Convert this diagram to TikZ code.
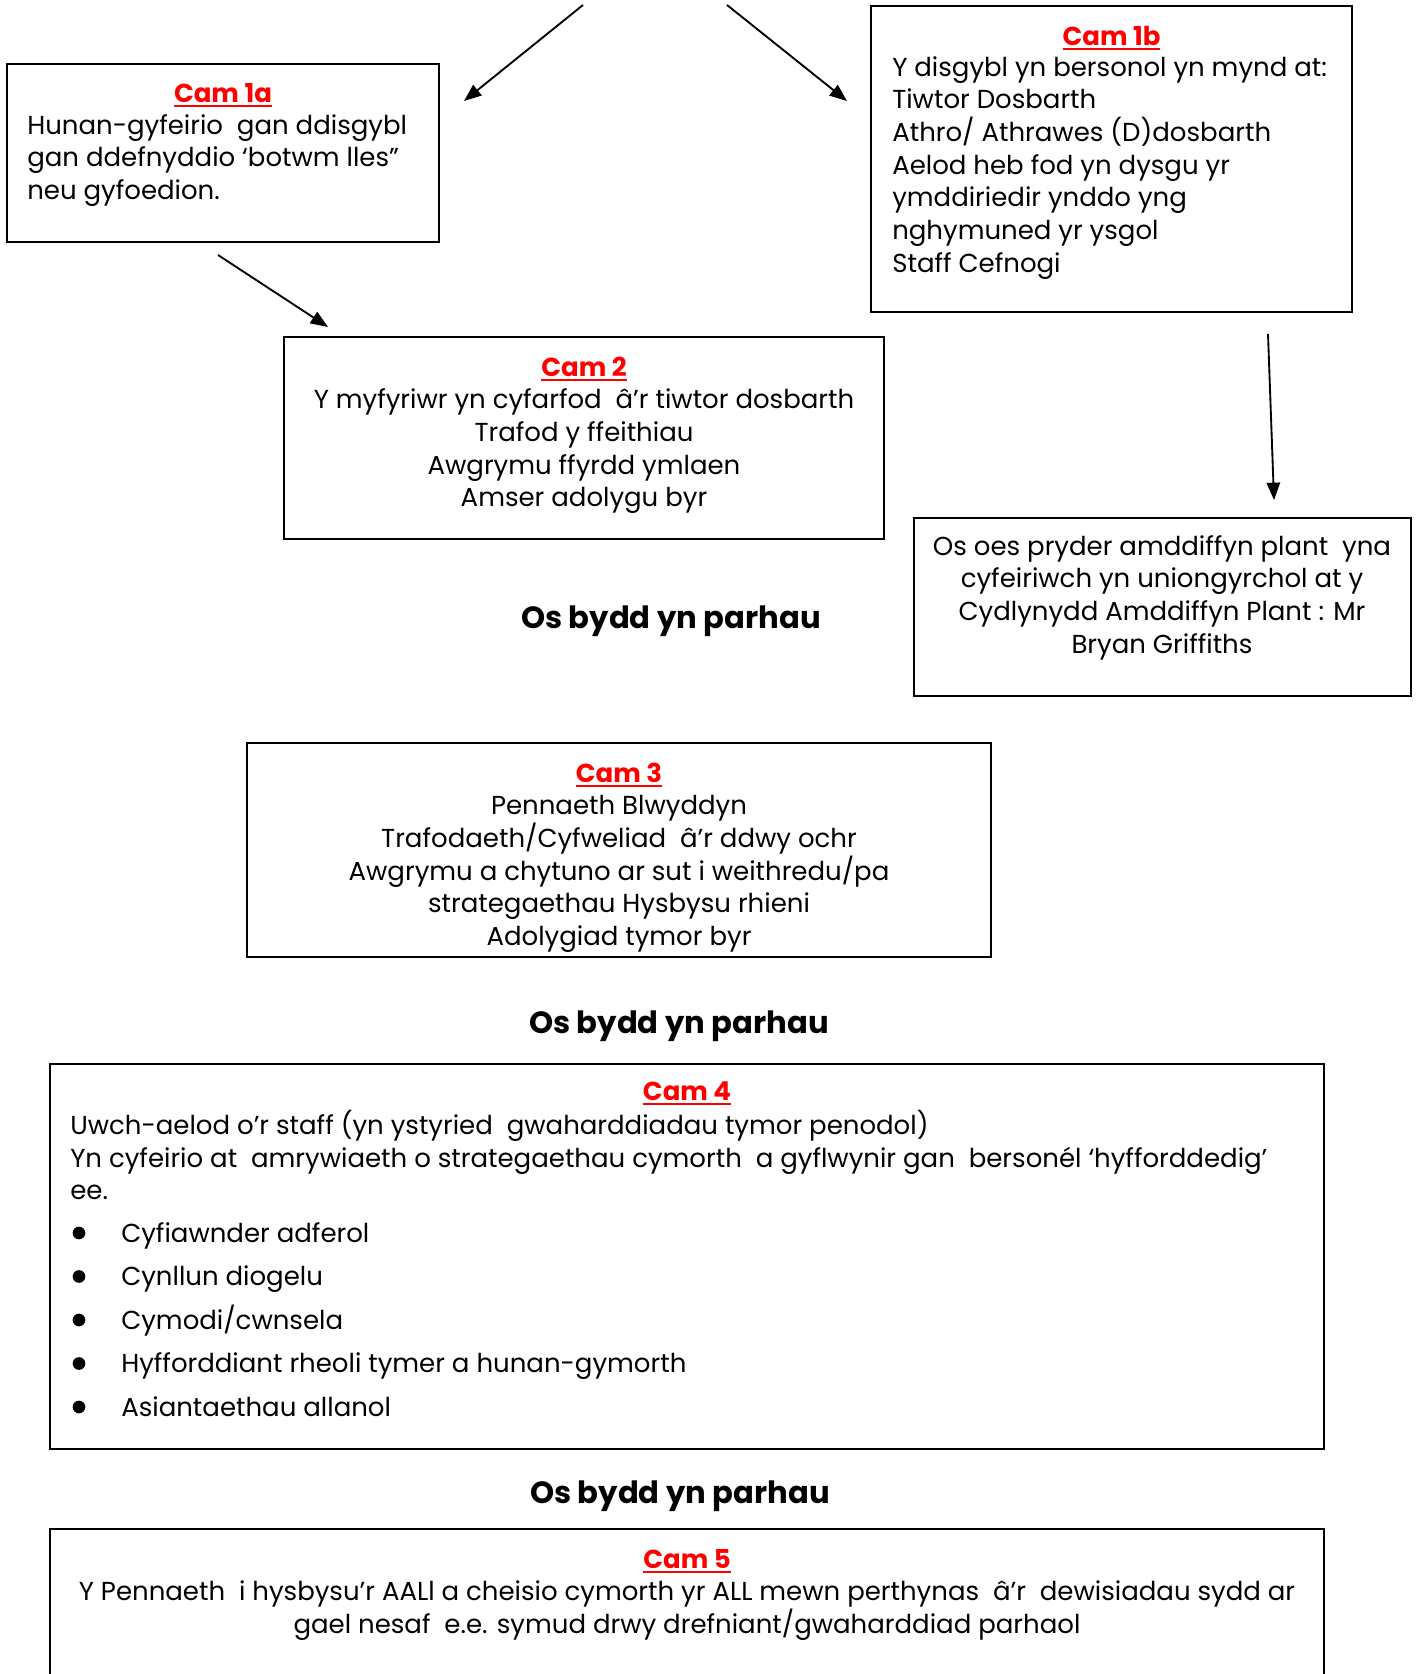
\documentclass[tikz,border=0pt]{standalone}
\usepackage{fontspec}
\setmainfont{Poppins}
\usetikzlibrary{arrows.meta}

\definecolor{camred}{RGB}{255,0,0}
\newcommand{\camtitle}[1]{\textcolor{camred}{\bfseries\setbox0\hbox{#1}\rlap{\rule[-3.5pt]{\wd0}{1.6pt}}\box0}}

\tikzset{
  box/.style={draw,line width=1.2pt,inner sep=0pt},
  body/.style={inner sep=0pt,font=\fontsize{19.5}{24.5}\selectfont},
  steptitle/.style={body,anchor=base},
  parhau/.style={inner sep=0pt,anchor=base,font=\fontsize{23}{28}\selectfont\bfseries},
  flow/.style={-{Triangle[length=13pt,width=10pt]},line width=1.4pt},
  dot/.style={circle,fill,inner sep=0pt,minimum size=9.5pt}
}

\begin{document}
\begin{tikzpicture}[x=0.75pt,y=-0.75pt]
  \useasboundingbox (0,0) rectangle (1418,1674);
  \clip (0,0) rectangle (1418,1674);

  % the boxes
  \node[box,minimum width=324pt,minimum height=133.5pt] (cam1a) at (223,153) {};
  \node[box,minimum width=360.75pt,minimum height=229.5pt] (cam1b) at (1111.5,159) {};
  \node[box,minimum width=450pt,minimum height=151.5pt] (cam2) at (584,438) {};
  \node[box,minimum width=372.75pt,minimum height=133.5pt] (plant) at (1162.5,607) {};
  \node[box,minimum width=558pt,minimum height=160.5pt] (cam3) at (619,850) {};
  \node[box,minimum width=955.5pt,minimum height=288.75pt] (cam4) at (687,1256.5) {};
  \node[box,minimum width=955.5pt,minimum height=180pt] (cam5) at (687,1649) {};

  % Cam 1a
  \node[steptitle] (t1a) at (223,102) {\camtitle{Cam 1a}};
  \node[body,anchor=north west,align=left] (b1a) at (27,111)
    {\strut Hunan-gyfeirio~ gan ddisgybl\\gan ddefnyddio ‘botwm lles”\\neu gyfoedion.};

  % Cam 1b
  \node[steptitle] (t1b) at (1111.5,45) {\camtitle{Cam 1b}};
  \node[body,anchor=north west,align=left] (b1b) at (892,53)
    {\strut Y disgybl yn bersonol yn mynd at:\\Tiwtor Dosbarth\\Athro/ Athrawes (D)dosbarth\\
     Aelod heb fod yn dysgu yr\\ymddiriedir ynddo yng\\nghymuned yr ysgol\\Staff Cefnogi};

  % Cam 2
  \node[body,anchor=north,align=center] (b2) at (584,353)
    {\strut\camtitle{Cam 2}\\Y myfyriwr yn cyfarfod~ â’r tiwtor dosbarth\\Trafod y ffeithiau\\
     Awgrymu ffyrdd ymlaen\\Amser adolygu byr};

  % amddiffyn plant
  \node[body,anchor=north,align=center] (bplant) at (1162,532)
    {\strut Os oes pryder amddiffyn plant~ yna\\cyfeiriwch yn uniongyrchol at y\\
     Cydlynydd Amddiffyn Plant : Mr\\Bryan Griffiths};

  % Cam 3
  \node[body,anchor=north,align=center] (b3) at (619,759)
    {\strut\camtitle{Cam 3}\\Pennaeth Blwyddyn\\Trafodaeth/Cyfweliad~ â’r ddwy ochr\\
     Awgrymu a chytuno ar sut i weithredu/pa\\strategaethau Hysbysu rhieni\\Adolygiad tymor byr};

  % Cam 4
  \node[steptitle] (t4) at (687,1100.6) {\camtitle{Cam 4}};
  \node[body,anchor=north west,align=left] (b4) at (70,1110)
    {\strut Uwch-aelod o’r staff (yn ystyried~ gwaharddiadau tymor penodol)\\
     Yn cyfeirio at~ amrywiaeth o strategaethau cymorth~ a gyflwynir gan~ bersonél ‘hyfforddedig’\\ee.};
  \foreach \item [count=\i] in {Cyfiawnder adferol,Cynllun diogelu,Cymodi/cwnsela,
      Hyfforddiant rheoli tymer a hunan-gymorth,Asiantaethau allanol} {
    \node[dot] (dot\i) at (79,1233+43.5*\i-43.5) {};
    \node[body,anchor=base west] (item\i) at (121,1242+43.5*\i-43.5) {\item};
  }

  % Cam 5
  \node[body,anchor=north,align=center] (b5) at (687,1545)
    {\strut\camtitle{Cam 5}\\Y Pennaeth~ i hysbysu’r AALl a cheisio cymorth yr ALL mewn perthynas~ â’r~ dewisiadau sydd ar\\
     gael nesaf~ e.e. symud drwy drefniant/gwaharddiad parhaol};

  % Os bydd yn parhau
  \node[parhau] (parhau1) at (671,628) {Os bydd yn parhau};
  \node[parhau] (parhau2) at (679,1033) {Os bydd yn parhau};
  \node[parhau] (parhau3) at (680,1503) {Os bydd yn parhau};

  % arrows
  \coordinate (s1) at (583,5);
  \coordinate (e1) at (464,101);
  \coordinate (s2) at (727,5);
  \coordinate (e2) at (847,101);
  \coordinate (s3) at (218,255);
  \coordinate (e3) at (328,327);
  \coordinate (s4) at (1268,334);
  \coordinate (e4) at (1274,500);
  \draw[flow] (s1) -- (e1);
  \draw[flow] (s2) -- (e2);
  \draw[flow] (s3) -- (e3);
  \draw[flow] (s4) -- (e4);
\end{tikzpicture}
\end{document}
